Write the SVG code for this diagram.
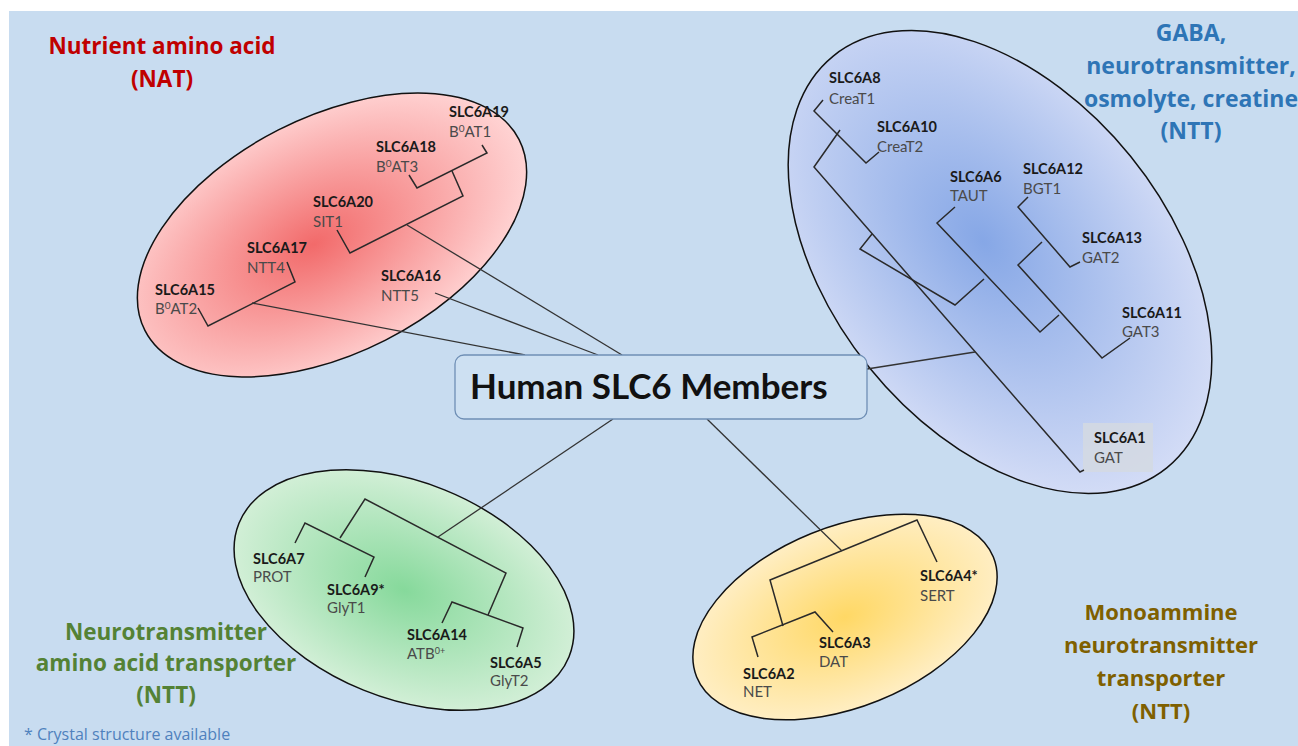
<svg xmlns="http://www.w3.org/2000/svg" width="1298" height="746" viewBox="0 0 1298 746">
<defs>
<radialGradient id="gRed" cx="0.45" cy="0.5" r="0.55"><stop offset="0" stop-color="#f26a6a"/><stop offset="1" stop-color="#ffd3d3"/></radialGradient>
<radialGradient id="gBlue" cx="0.45" cy="0.5" r="0.55"><stop offset="0" stop-color="#86a7e6"/><stop offset="1" stop-color="#d3dcf6"/></radialGradient>
<radialGradient id="gGreen" cx="0.5" cy="0.5" r="0.55"><stop offset="0" stop-color="#86d99b"/><stop offset="1" stop-color="#d9f1dc"/></radialGradient>
<radialGradient id="gYellow" cx="0.5" cy="0.5" r="0.55"><stop offset="0" stop-color="#ffd865"/><stop offset="1" stop-color="#fff0cc"/></radialGradient>
<style>
.ell{stroke:#111;stroke-width:1.5}
.tree{fill:none;stroke:#2a2a2a;stroke-width:1.5;stroke-linejoin:miter}
.con{fill:none;stroke:#333;stroke-width:1.3}
.b{font-family:Lato,"Open Sans",sans-serif;font-weight:bold;font-size:14.5px;fill:#1a1a1a}
.r{font-family:Lato,"Open Sans",sans-serif;font-size:15px;fill:#4a4a4a}
.t{font-family:"Open Sans",Lato,sans-serif;font-weight:bold;text-anchor:middle}
</style>
</defs>
<rect x="0" y="0" width="1298" height="746" fill="#ffffff"/>
<rect x="9" y="11" width="1289" height="735" fill="#c8dcf0"/>

<g id="cluster-nat">
<ellipse class="ell" cx="0" cy="0" rx="210" ry="118" transform="translate(332,235) rotate(-27)" fill="url(#gRed)"/>
<polyline class="tree" points="409,175 417,188 487,153 482,145"/>
<polyline class="tree" points="452,171 463,196 350,253 337,230"/>
<polyline class="tree" points="198,308 208,326 295,282 287,262"/>
<text class="b" x="449" y="117">SLC6A19</text><text class="r" x="449" y="137">B<tspan dy="-5" font-size="10">0</tspan><tspan dy="5">AT1</tspan></text>
<text class="b" x="376" y="152">SLC6A18</text><text class="r" x="376" y="172">B<tspan dy="-5" font-size="10">0</tspan><tspan dy="5">AT3</tspan></text>
<text class="b" x="313" y="207">SLC6A20</text><text class="r" x="313" y="227">SIT1</text>
<text class="b" x="247" y="253">SLC6A17</text><text class="r" x="247" y="273">NTT4</text>
<text class="b" x="155" y="295">SLC6A15</text><text class="r" x="155" y="314">B<tspan dy="-5" font-size="10">0</tspan><tspan dy="5">AT2</tspan></text>
<text class="b" x="381" y="281">SLC6A16</text><text class="r" x="381" y="301">NTT5</text>
</g>

<g id="cluster-gaba">
<ellipse class="ell" cx="0" cy="0" rx="265" ry="168" transform="translate(1000,262) rotate(51)" fill="url(#gBlue)"/>
<rect x="1083" y="423" width="70" height="49" fill="#d3d9e2" opacity="0.85"/>
<polyline class="tree" points="823,100 814,111 866,163 879,152"/>
<polyline class="tree" points="840,130 814,167 1080,472 1084,470"/>
<polyline class="tree" points="872,234 860,249 955,305 984,279"/>
<polyline class="tree" points="955,207 937,223 1040,332 1059,315"/>
<polyline class="tree" points="1028,197 1018,207 1070,267 1080,262"/>
<polyline class="tree" points="1042,242 1018,265 1102,358 1130,338"/>
<text class="b" x="829" y="83">SLC6A8</text><text class="r" x="829" y="104">CreaT1</text>
<text class="b" x="877" y="132">SLC6A10</text><text class="r" x="877" y="152">CreaT2</text>
<text class="b" x="950" y="182">SLC6A6</text><text class="r" x="950" y="201">TAUT</text>
<text class="b" x="1023" y="174">SLC6A12</text><text class="r" x="1023" y="194">BGT1</text>
<text class="b" x="1082" y="243">SLC6A13</text><text class="r" x="1082" y="263">GAT2</text>
<text class="b" x="1122" y="318">SLC6A11</text><text class="r" x="1122" y="337">GAT3</text>
<text class="b" x="1094" y="443">SLC6A1</text><text class="r" x="1094" y="463">GAT</text>
</g>

<g id="cluster-ntt-aa">
<ellipse class="ell" cx="0" cy="0" rx="178" ry="108" transform="translate(404,590) rotate(22)" fill="url(#gGreen)"/>
<polyline class="tree" points="295,543 305,523 374,557 365,577"/>
<polyline class="tree" points="340,538 365,499 506,573 488,615"/>
<polyline class="tree" points="442,623 452,602 523,628 517,647"/>
<text class="b" x="253" y="564">SLC6A7</text><text class="r" x="253" y="582">PROT</text>
<text class="b" x="327" y="595">SLC6A9*</text><text class="r" x="327" y="613">GlyT1</text>
<text class="b" x="407" y="640">SLC6A14</text><text class="r" x="407" y="659">ATB<tspan dy="-5" font-size="9">0+</tspan></text>
<text class="b" x="490" y="668">SLC6A5</text><text class="r" x="490" y="686">GlyT2</text>
</g>

<g id="cluster-mono">
<ellipse class="ell" cx="0" cy="0" rx="160" ry="90" transform="translate(845,617) rotate(-22)" fill="url(#gYellow)"/>
<polyline class="tree" points="937,562 917,520 770,580 783,626"/>
<polyline class="tree" points="758,657 752,637 815,612 833,632"/>
<text class="b" x="920" y="581">SLC6A4*</text><text class="r" x="920" y="601">SERT</text>
<text class="b" x="819" y="648">SLC6A3</text><text class="r" x="819" y="667">DAT</text>
<text class="b" x="743" y="679">SLC6A2</text><text class="r" x="743" y="697">NET</text>
</g>

<g id="connectors">
<line class="con" x1="407" y1="225" x2="622" y2="355"/>
<line class="con" x1="252" y1="303" x2="525" y2="355"/>
<line class="con" x1="435" y1="293" x2="598" y2="355"/>
<line class="con" x1="867" y1="369" x2="975" y2="352"/>
<line class="con" x1="613" y1="419" x2="438" y2="537"/>
<line class="con" x1="707" y1="419" x2="842" y2="551"/>
</g>

<g id="hub">
<rect x="455" y="355" width="412" height="64" rx="9" fill="#cde0f2" stroke="#6f8fb5" stroke-width="1.3"/>
<text x="470" y="399" font-family="Lato,'Open Sans',sans-serif" font-weight="bold" font-size="35" fill="#111">Human SLC6 Members</text>
</g>

<g id="titles">
<text class="t" x="162" y="54" font-size="22.5" fill="#c00000">Nutrient amino acid</text>
<text class="t" x="162" y="87" font-size="22.5" fill="#c00000">(NAT)</text>
<text class="t" x="1191" y="41" font-size="23" fill="#2e75b6">GABA,</text>
<text class="t" x="1191" y="74" font-size="23" fill="#2e75b6">neurotransmitter,</text>
<text class="t" x="1191" y="107" font-size="23" fill="#2e75b6">osmolyte, creatine</text>
<text class="t" x="1191" y="139" font-size="23" fill="#2e75b6">(NTT)</text>
<text class="t" x="166" y="640" font-size="22.5" fill="#548235">Neurotransmitter</text>
<text class="t" x="166" y="671" font-size="22.5" fill="#548235">amino acid transporter</text>
<text class="t" x="166" y="703" font-size="22.5" fill="#548235">(NTT)</text>
<text class="t" x="1161" y="620" font-size="22" fill="#7f6000">Monoammine</text>
<text class="t" x="1161" y="653" font-size="22" fill="#7f6000">neurotransmitter</text>
<text class="t" x="1161" y="686" font-size="22" fill="#7f6000">transporter</text>
<text class="t" x="1161" y="719" font-size="22" fill="#7f6000">(NTT)</text>
<text x="24" y="740" font-family="'Open Sans',Lato,sans-serif" font-size="16" fill="#4f81bd">* Crystal structure available</text>
</g>
</svg>
